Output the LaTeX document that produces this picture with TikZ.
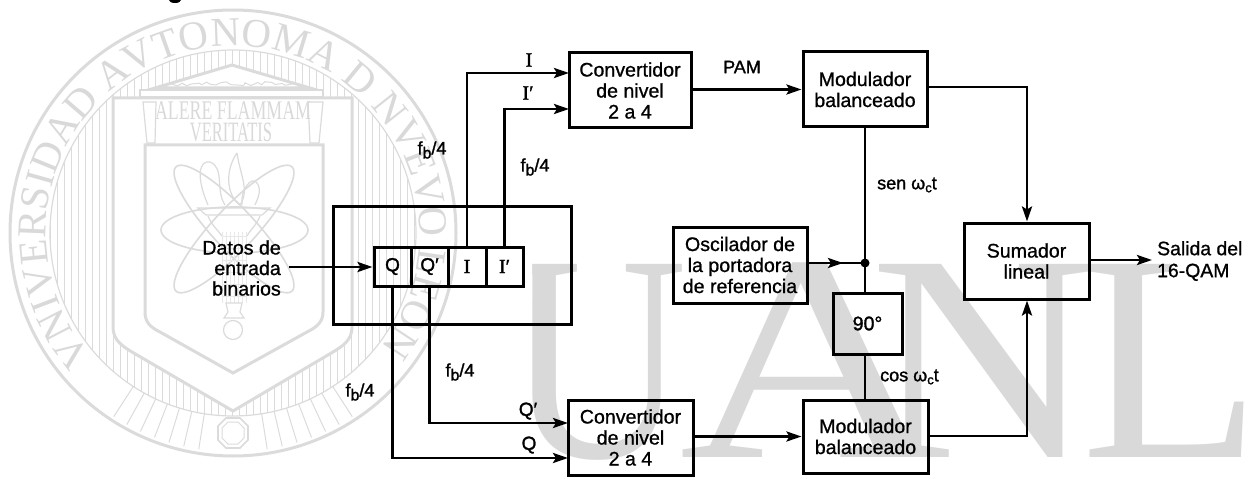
\documentclass[tikz,border=0pt]{standalone}
\usepackage{fontspec}
\setmainfont{Liberation Sans}
\newfontfamily\labfont[FakeBold=0.9]{Liberation Sans}
\newfontfamily\smallfont[FakeBold=1.5]{Liberation Sans}
\newfontfamily\sigfont[FakeBold=1.6]{Liberation Serif}
\newfontfamily\wmserif{Liberation Serif}
\usetikzlibrary{arrows.meta,decorations.text,decorations.pathmorphing}
\definecolor{wm}{gray}{0.85}
\definecolor{wmline}{gray}{0.86}
\definecolor{wmfine}{gray}{0.91}
\newcommand{\fbq}{f\raisebox{-4pt}{\fontsize{16}{16}\smallfont b}/4}
\tikzset{
  blockbox/.style={draw=black,line width=3pt,inner sep=0pt,align=center,font=\fontsize{19.6}{21}\labfont},
  cell/.style={draw=black,line width=3pt,inner sep=0pt,minimum height=39pt,font=\fontsize{19}{20}\smallfont},
  conn/.style={line width=2.8pt,draw=black},
  arr/.style={conn,-{Stealth[length=15pt,width=10pt,inset=3pt]}},
  lab/.style={inner sep=0pt,font=\fontsize{18}{20}\smallfont},
  sig/.style={inner sep=0pt,font=\fontsize{20}{20}\sigfont},
  wmthin/.style={draw=wmline,line width=1.2pt},
  wmthick/.style={draw=wmline,line width=3pt},
  wmtext/.style={inner sep=0pt,text=wm,transform shape},
  bigletter/.style={inner sep=0pt,text=wm,font=\fontsize{295}{295}\wmserif,transform shape}
}
\begin{document}
\begin{tikzpicture}[x=1pt,y=-1pt]
\useasboundingbox (0,0) rectangle (1247,489);
% --- watermark: big letters
\node[bigletter,xscale=.85,anchor=base] (wU) at (597,457) {U};
\node[bigletter,xscale=1.25,anchor=base] (wA) at (813,457) {A};
\node[bigletter,xscale=1.06,anchor=base] (wN) at (983,457) {N};
\node[bigletter,xscale=1.0,anchor=base] (wL) at (1172,457) {L};
\fill[white,rounded corners=10pt] (480,240) rectangle (532,310);
% --- watermark: seal
\draw[wmthick] (233,233) circle [radius=223pt];
\begin{scope}
\clip (233,233) circle [radius=183pt];
\foreach \hx in {50,57,...,420}{\draw[wmline,line width=1pt] (\hx,45) -- (\hx,420);}
\end{scope}
\draw[wmthin] (233,233) circle [radius=183pt];
\foreach \ang in {-33,-29,...,-9,9,13,...,33}{
  \draw[wmline,line width=1pt] (233,233) ++({sin(\ang)*183},{cos(\ang)*183}) -- ++({sin(\ang)*36},{cos(\ang)*36});
}
\draw[wmthick,fill=white] (113,98) -- (113,327) .. controls (113,340) and (122,346) .. (132,352) -- (233,411) -- (333,352) .. controls (343,346) and (352,340) .. (352,327) -- (352,98) -- cycle;
\draw[wmthick,fill=white] (145,145) -- (145,312) .. controls (145,322) and (150,327) .. (160,332) -- (233,373) -- (307,332) .. controls (317,327) and (323,322) .. (323,312) -- (323,145) -- cycle;
\draw[wmthick,fill=white] (232,65) -- (310,88) -- (155,88) -- cycle;
\draw[wmline,line width=1pt,decorate,decoration={random steps,segment length=5pt,amplitude=2.5pt}] (172,84) -- (292,84);
\draw[wmthin,fill=white,line width=2pt] (140,90) rectangle (323,97);
\draw[wmthin,fill=white] (143,102) -- (156,102) -- (155,143) -- (147,143) -- cycle;
\draw[wmthin,fill=white] (308,102) -- (323,102) -- (319,143) -- (310,143) -- cycle;
\node[wmtext,font=\fontsize{27}{27}\wmserif,xscale=.66] (wAlere) at (233,111) {ALERE FLAMMAM};
\node[wmtext,font=\fontsize{28}{28}\wmserif,xscale=.59] (wVer) at (231,132) {VERITATIS};
\draw[wmthin,line width=1.6pt] (234.5,230) ellipse [x radius=73.5pt,y radius=23pt];
\draw[wmthin,line width=1.6pt,rotate around={47:(234,229)}] (234,229) ellipse [x radius=85pt,y radius=21pt];
\draw[wmthin,line width=1.6pt,rotate around={-47:(234,229)}] (234,229) ellipse [x radius=85pt,y radius=21pt];
\draw[wmthin] (237,153) .. controls (225,170) and (226,195) .. (240,205) .. controls (250,190) and (240,175) .. (237,153);
\draw[wmthin] (208,205) .. controls (195,175) and (200,160) .. (210,162) .. controls (225,168) and (215,190) .. (225,205);
\draw[wmthin] (242,205) .. controls (240,190) and (252,175) .. (257,183) .. controls (262,190) and (258,198) .. (255,205);
\draw[wmthin] (198,208) -- (270,208) -- (262,215) -- (206,215) -- cycle;
\draw[wmthin] (208,216) .. controls (212,226) and (218,230) .. (222,236);
\draw[wmthin] (260,216) .. controls (256,226) and (250,230) .. (247,236);
\foreach \gx in {222,226,...,246}{\draw[wmfine,line width=.7pt] (\gx,232) -- (\gx,303);}
\foreach \gy in {236,248,...,300}{\draw[wmfine,line width=.7pt] (222,\gy) -- (246,\gy);}
\draw[wmthin] (226,303) -- (242,303) -- (240,312) -- (244,318) -- (224,318) -- (228,312) -- cycle;
\draw[wmthin] (233,330) circle [radius=9.5pt];
\draw[wmthick,line width=1.6pt,fill=white] (226,418) -- (240,418) -- (248,426) -- (248,440) -- (240,448) -- (226,448) -- (218,440) -- (218,426) -- cycle;
\draw[wmthin,line width=1pt] (228,422) -- (238,422) -- (244,428) -- (244,438) -- (238,444) -- (228,444) -- (222,438) -- (222,428) -- cycle;
\begin{scope}[shift={(233,233)},y=1pt]
\path[decorate,decoration={text along path,text align={fit to path},text color=wm,
  text={|\fontsize{41}{41}\wmserif|VNIVERSIDAD AVTONOMA D NVEVO LEON}}]
  (221:187pt) arc [start angle=221,end angle=-38,radius=187pt];
\end{scope}
% --- fragment of a cropped line of text at the top edge
\fill[black] (175,0) ellipse [x radius=6pt,y radius=3pt];
% --- blocks
\node[draw=black,line width=3pt,inner sep=0pt,minimum width=238pt,minimum height=117pt] (outer) at (452,265.5) {};
\node[cell,minimum width=37pt] (rQ) at (392.5,266.5) {Q};
\node[cell,minimum width=37pt] (rQp) at (429.5,266.5) {Q′};
\node[cell,minimum width=38pt,font=\fontsize{20}{20}\sigfont] (rI) at (467,266.5) {I};
\node[cell,minimum width=37pt,font=\fontsize{20}{20}\sigfont] (rIp) at (504.5,266.5) {I′};
\node[blockbox,minimum width=122pt,minimum height=75pt] (cv1) at (630,90.5) {Convertidor\\de nivel\\2 a 4};
\node[blockbox,minimum width=125pt,minimum height=75pt] (cv2) at (630.5,437.5) {Convertidor\\de nivel\\2 a 4};
\node[blockbox,minimum width=124pt,minimum height=75pt] (m1) at (865,89.5) {Modulador\\balanceado};
\node[blockbox,minimum width=125pt,minimum height=73pt] (m2) at (865.5,436.5) {Modulador\\balanceado};
\node[blockbox,minimum width=134pt,minimum height=76pt] (osc) at (740,265) {Oscilador de\\la portadora\\de referencia};
\node[blockbox,minimum width=69pt,minimum height=61pt,font=\fontsize{19.6}{21}\smallfont] (p90) at (867.5,323.5) {90°};
\node[blockbox,minimum width=125pt,minimum height=76pt] (sum) at (1026.5,261) {Sumador\\lineal};
% --- anchors on edges
\coordinate (junc) at (865,263);
\coordinate (oscmid) at (843,263);
\coordinate (cv1a) at (569,73);
\coordinate (cv1b) at (569,109);
\coordinate (cv2a) at (568,423);
\coordinate (cv2b) at (568,458);
\coordinate (m1out) at (1027,87);
\coordinate (m2out) at (1027,436);
\coordinate (dat) at (289,267);
\coordinate (outp) at (1152,260);
% --- connectors
\draw[arr] (dat) -- (rQ.west |- dat);
\draw[arr] (rI.north) |- (cv1a);
\draw[arr] (rIp.north) |- (cv1b);
\draw[arr] (rQ.south) |- (cv2b);
\draw[arr] (rQp.south) |- (cv2a);
\draw[arr] (cv1.east |- m1.west) -- (m1.west);
\draw[arr] (cv2.east |- m2.west) -- (m2.west);
\draw[conn] (m1.south -| junc) -- (p90.north -| junc);
\draw[conn] (p90.south -| junc) -- (m2.north -| junc);
\draw[conn] (osc.east |- junc) -- (junc);
\draw[arr] (osc.east |- junc) -- (oscmid);
\fill (junc) circle [radius=4.5pt];
\draw[arr] (m1.east |- m1out) -| (sum.north -| m1out);
\draw[arr] (m2.east |- m2out) -| (sum.south -| m2out);
\draw[arr] (sum.east |- outp) -- (outp);
% --- labels
\node[lab,align=right,anchor=east,font=\fontsize{19.6}{20.5}\labfont] (ldatos) at (281,268) {Datos de\\entrada\\binarios};
\node[lab] (lf1) at (432,150) {\fbq};
\node[lab] (lf2) at (535,167) {\fbq};
\node[lab] (lf3) at (460,372) {\fbq};
\node[lab] (lf4) at (360,392) {\fbq};
\node[sig] (lI) at (529,60) {I};
\node[sig] (lIp) at (528,93) {I′};
\node[lab,font=\fontsize{19}{20}\smallfont] (lQp) at (528,411) {Q′};
\node[lab,font=\fontsize{19}{20}\smallfont] (lQ) at (529,445) {Q};
\node[lab] (lpam) at (742,67) {PAM};
\node[lab,anchor=west] (lsen) at (877,185) {sen ω\raisebox{-3pt}{\fontsize{13}{13}\smallfont c}t};
\node[lab,anchor=west] (lcos) at (880,377) {cos ω\raisebox{-3pt}{\fontsize{13}{13}\smallfont c}t};
\node[lab,anchor=west,align=left,font=\fontsize{19.4}{22}\labfont] (lout) at (1157,261) {Salida del\\16-QAM};
\end{tikzpicture}
\end{document}
